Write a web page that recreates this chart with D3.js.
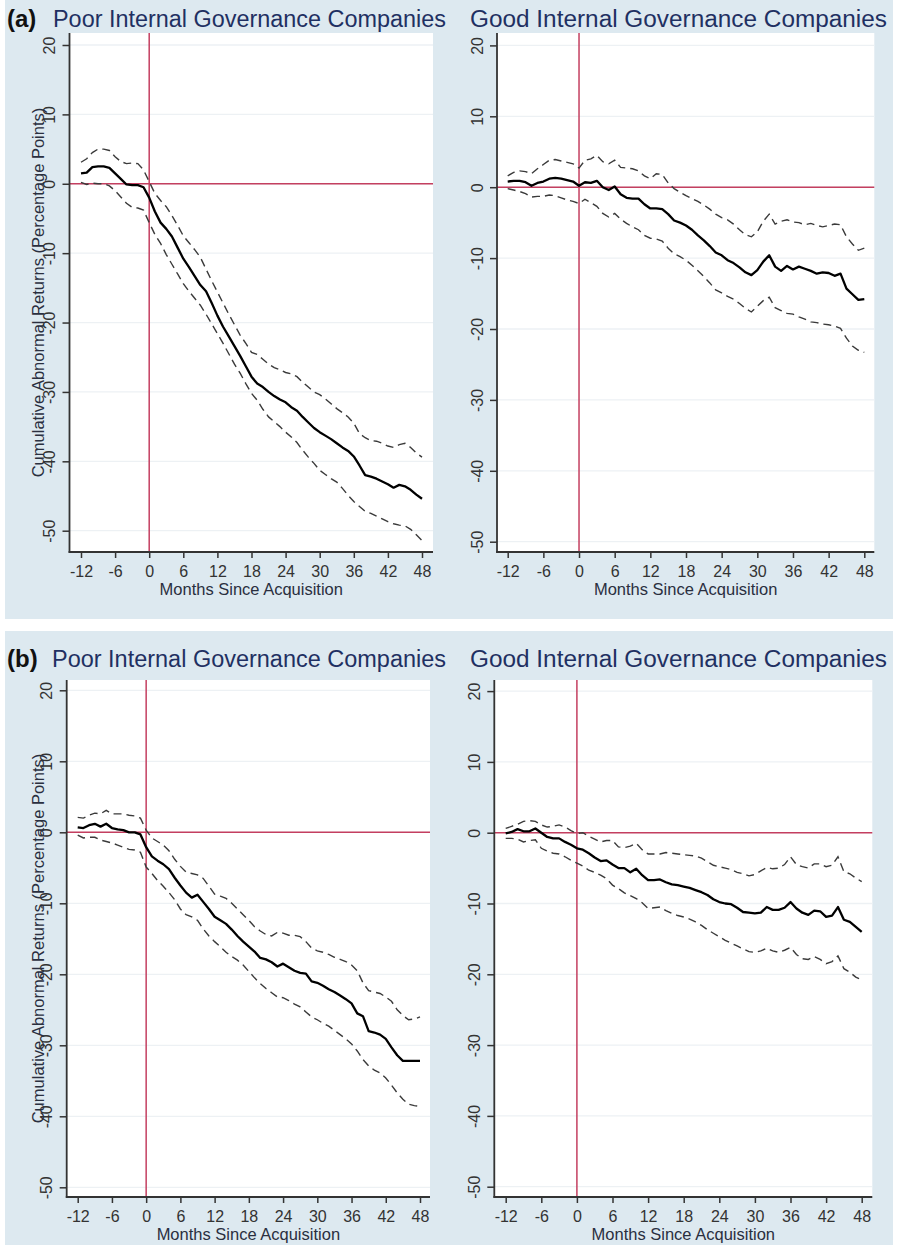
<!DOCTYPE html>
<html><head><meta charset="utf-8">
<script src="https://cdn.jsdelivr.net/npm/d3@7"></script>
<style>body{margin:0;background:#fff;} svg{display:block;} text{font-family:"Liberation Sans",Arial,sans-serif;}</style>
</head><body>
<svg id="c" width="897" height="1247"></svg>
<script>
// ---------- data ----------
const months = [-12,-11,-10,-9,-8,-7,-6,-5,-4,-3,-2,-1,0,1,2,3,4,5,6,7,8,9,10,11,12,13,14,15,16,17,18,19,20,21,22,23,24,25,26,27,28,29,30,31,32,33,34,35,36,37,38,39,40,41,42,43,44,45,46,47,48];
const xTicks = [-12,-6,0,6,12,18,24,30,36,42,48];
const yTicks = [20,10,0,-10,-20,-30,-40,-50];

// (a) Poor internal governance
const aPoorMean = [1.5,1.6,2.4,2.5,2.5,2.3,1.5,0.7,-0.1,-0.2,-0.2,-0.5,-2.0,-4.0,-5.6,-6.5,-7.6,-9.2,-10.8,-12.0,-13.3,-14.6,-15.5,-17.2,-19.0,-20.6,-22.0,-23.4,-24.8,-26.3,-27.8,-28.8,-29.3,-30.0,-30.6,-31.1,-31.5,-32.2,-32.7,-33.6,-34.4,-35.2,-35.8,-36.3,-36.8,-37.4,-38.0,-38.5,-39.3,-40.6,-42.0,-42.2,-42.5,-42.9,-43.3,-43.8,-43.4,-43.6,-44.1,-44.8,-45.4];
const aPoorUpper = [3.1,3.6,4.5,5.0,5.0,4.8,3.9,3.2,2.9,3.0,2.9,2.0,0.3,-1.4,-2.4,-3.3,-4.6,-6.0,-7.5,-8.5,-9.5,-10.6,-12.3,-14.0,-15.6,-17.2,-18.8,-20.3,-21.8,-23.0,-24.3,-24.6,-25.3,-26.0,-26.5,-26.8,-27.2,-27.4,-27.8,-28.6,-29.3,-30.0,-30.4,-31.0,-31.7,-32.4,-33.0,-33.6,-34.5,-36.0,-36.6,-37.0,-37.1,-37.4,-37.8,-38.0,-37.6,-37.4,-38.0,-38.8,-39.4];
const aPoorLower = [0.2,-0.1,0.1,0.0,0.0,-0.3,-1.0,-1.9,-2.8,-3.4,-3.5,-3.8,-5.6,-7.3,-8.6,-10.2,-11.6,-13.0,-14.4,-15.5,-16.5,-17.5,-18.8,-20.2,-21.6,-23.0,-24.5,-26.0,-27.3,-28.8,-30.2,-31.2,-32.5,-33.6,-34.3,-35.0,-35.8,-36.5,-37.3,-38.4,-39.4,-40.3,-41.3,-41.9,-42.5,-43.0,-43.9,-44.9,-45.8,-46.5,-47.2,-47.5,-47.9,-48.3,-48.7,-49.0,-49.2,-49.3,-49.8,-50.6,-51.4];

// (a) Good internal governance
const aGoodMean = [0.8,0.9,0.9,0.7,0.2,0.6,0.8,1.2,1.3,1.2,1.0,0.8,0.2,0.7,0.6,0.9,0.0,-0.4,0.1,-1.0,-1.5,-1.6,-1.6,-2.4,-3.0,-3.0,-3.1,-3.8,-4.7,-5.0,-5.4,-6.0,-6.8,-7.5,-8.3,-9.2,-9.6,-10.3,-10.7,-11.3,-12.0,-12.4,-11.7,-10.5,-9.6,-11.2,-11.8,-11.1,-11.6,-11.2,-11.5,-11.8,-12.2,-12.0,-12.1,-12.5,-12.2,-14.3,-15.1,-15.9,-15.8];
const aGoodUpper = [1.6,2.1,2.3,2.2,1.9,2.6,3.2,3.8,3.9,3.7,3.5,3.3,2.7,3.8,4.0,4.5,3.6,3.3,3.8,2.8,2.7,2.6,2.3,1.6,1.2,1.9,1.8,0.6,-0.2,-0.7,-1.2,-1.6,-2.0,-2.5,-3.1,-3.8,-4.3,-4.6,-5.2,-6.0,-6.7,-7.0,-6.3,-4.8,-3.8,-5.2,-4.8,-4.6,-4.9,-5.0,-5.3,-5.1,-5.4,-5.6,-5.4,-5.2,-5.3,-7.0,-8.0,-8.9,-8.6];
const aGoodLower = [-0.2,-0.4,-0.6,-0.9,-1.4,-1.3,-1.3,-1.1,-1.2,-1.5,-1.8,-2.0,-2.3,-1.7,-2.2,-2.7,-3.7,-4.2,-3.7,-4.5,-5.1,-5.6,-6.0,-6.8,-7.2,-7.3,-7.6,-8.6,-9.4,-9.8,-10.3,-11.0,-11.8,-12.6,-13.5,-14.5,-14.9,-15.4,-15.8,-16.4,-17.1,-17.6,-16.8,-16.0,-15.5,-17.0,-17.4,-17.8,-17.9,-18.3,-18.6,-19.0,-19.1,-19.3,-19.4,-19.6,-19.9,-21.3,-22.4,-23.0,-23.3];

// (b) Poor internal governance
const bPoorMean = [0.7,0.6,1.0,1.2,0.8,1.2,0.6,0.4,0.3,0.0,0.0,-0.3,-2.1,-3.4,-4.0,-4.5,-5.2,-6.4,-7.5,-8.5,-9.2,-8.8,-9.8,-10.8,-11.9,-12.4,-12.9,-13.7,-14.6,-15.4,-16.1,-16.8,-17.7,-17.9,-18.3,-18.9,-18.5,-19.0,-19.5,-19.8,-19.9,-21.0,-21.2,-21.6,-22.1,-22.5,-23.0,-23.5,-24.1,-25.5,-25.9,-28.0,-28.2,-28.5,-29.1,-30.3,-31.4,-32.2,-32.2,-32.2,-32.2];
const bPoorUpper = [2.1,2.0,2.4,2.7,2.6,3.1,2.6,2.6,2.6,2.4,2.3,2.0,0.3,-0.8,-1.3,-1.8,-2.6,-3.8,-4.8,-5.6,-5.8,-6.0,-6.5,-7.6,-8.7,-9.0,-9.3,-10.0,-10.8,-11.6,-12.4,-13.3,-13.9,-14.4,-14.6,-14.1,-14.2,-14.5,-14.5,-14.7,-15.4,-16.3,-16.7,-16.9,-17.2,-17.6,-17.9,-18.2,-18.7,-19.5,-21.2,-22.3,-22.5,-22.7,-23.2,-23.8,-25.0,-25.8,-26.4,-26.3,-26.0];
const bPoorLower = [-0.4,-0.8,-0.7,-0.7,-1.1,-1.3,-1.5,-1.8,-2.1,-2.4,-2.5,-2.8,-4.9,-5.8,-6.8,-7.6,-8.5,-9.5,-10.8,-11.6,-11.9,-12.4,-13.6,-14.6,-15.4,-16.1,-16.9,-17.5,-18.0,-18.7,-19.6,-20.5,-21.3,-22.0,-22.6,-23.2,-23.3,-23.7,-24.2,-24.6,-25.3,-26.0,-26.4,-26.9,-27.3,-27.9,-28.5,-29.1,-29.8,-30.8,-32.0,-32.9,-33.5,-33.9,-34.6,-35.6,-36.7,-37.6,-38.3,-38.5,-38.6];

// (b) Good internal governance
const bGoodMean = [-0.1,0.1,0.5,0.2,0.2,0.6,0.0,-0.6,-0.8,-0.8,-1.3,-1.7,-2.2,-2.4,-2.9,-3.5,-4.0,-3.9,-4.5,-5.0,-5.0,-5.6,-5.1,-6.0,-6.7,-6.7,-6.6,-7.0,-7.3,-7.4,-7.6,-7.8,-8.1,-8.4,-8.8,-9.4,-9.8,-10.0,-10.1,-10.6,-11.2,-11.3,-11.4,-11.3,-10.5,-10.9,-10.9,-10.6,-9.8,-10.7,-11.3,-11.6,-11.0,-11.1,-11.9,-11.7,-10.5,-12.3,-12.6,-13.3,-14.0];
const bGoodUpper = [0.6,0.9,1.2,1.6,1.7,1.6,1.1,0.8,0.9,1.1,0.8,0.3,-0.1,0.0,-0.5,-0.9,-1.3,-1.1,-1.1,-2.0,-2.1,-1.9,-1.5,-2.4,-3.0,-3.0,-3.0,-2.8,-2.9,-3.0,-3.1,-3.2,-3.3,-3.6,-4.1,-4.6,-4.8,-5.0,-5.2,-5.6,-5.8,-6.1,-5.9,-5.4,-4.9,-5.1,-5.0,-4.5,-3.4,-4.5,-4.8,-5.0,-4.4,-4.4,-4.8,-4.6,-3.4,-5.5,-5.8,-6.4,-6.9];
const bGoodLower = [-0.8,-0.8,-0.9,-1.3,-1.1,-1.0,-2.2,-2.6,-2.9,-3.0,-3.4,-3.9,-4.3,-4.7,-5.3,-5.6,-6.0,-6.5,-7.4,-7.9,-8.5,-8.9,-9.3,-9.9,-10.7,-10.6,-10.5,-11.0,-11.4,-11.7,-11.9,-12.2,-12.6,-13.1,-13.7,-14.2,-14.7,-15.2,-15.6,-16.0,-16.4,-16.8,-16.9,-16.7,-16.3,-16.7,-16.9,-16.6,-16.2,-17.2,-17.8,-17.9,-17.5,-17.9,-18.5,-18.2,-17.4,-19.2,-19.7,-20.4,-20.8];

const titles = ["Poor Internal Governance Companies","Good Internal Governance Companies"];
const tags = ["(a)","(b)"];
const xTitle = "Months Since Acquisition";
const yTitle = "Cumulative Abnormal Returns (Percentage Points)";

// ---------- layout ----------
const BG = "#dde9f0", RED = "#c43f60", NAVY = "#1f3062", AX = "#333333";
const panels = [
  {row:0, col:0, mean:aPoorMean, up:aPoorUpper, lo:aPoorLower, x0:81, x1:422, left:69.5, right:433, y20:45, y50:530.7, top:33, bottom:552, tx:53, tw:393, ty:27},
  {row:0, col:1, mean:aGoodMean, up:aGoodUpper, lo:aGoodLower, x0:507.7, x1:864.3, left:497, right:874.3, y20:45.4, y50:541.7, top:33, bottom:552, tx:470, tw:417, ty:27},
  {row:1, col:0, mean:bPoorMean, up:bPoorUpper, lo:bPoorLower, x0:77.7, x1:420, left:66.7, right:430, y20:690.3, y50:1187.3, top:680, bottom:1197, tx:52, tw:394, ty:667},
  {row:1, col:1, mean:bGoodMean, up:bGoodUpper, lo:bGoodLower, x0:505.7, x1:861.7, left:494.3, right:872.3, y20:691.1, y50:1186.7, top:680, bottom:1197, tx:470, tw:417, ty:667}
];

const svg = d3.select('#c');
svg.append('rect').attr('x',5).attr('y',0).attr('width',888).attr('height',619).attr('fill',BG);
svg.append('rect').attr('x',5).attr('y',631).attr('width',888).attr('height',614).attr('fill',BG);

// row tags
[27,667].forEach((ty,i)=>{
  svg.append('text').attr('x',7).attr('y',ty).attr('font-size',24).attr('font-weight','bold').attr('fill','#111').text(tags[i]);
});

panels.forEach(p=>{
  const x = d3.scaleLinear().domain([-12,48]).range([p.x0,p.x1]);
  const y = d3.scaleLinear().domain([20,-50]).range([p.y20,p.y50]);
  const g = svg.append('g');

  // title
  g.append('text').attr('x',p.tx).attr('y',p.ty).attr('font-size',23).attr('fill',NAVY)
    .attr('textLength',p.tw).attr('lengthAdjust','spacingAndGlyphs').text(titles[p.col]);

  // plot region
  g.append('rect').attr('x',p.left).attr('y',p.top).attr('width',p.right-p.left).attr('height',p.bottom-p.top).attr('fill','#fff');

  // grid
  g.selectAll('line.grid').data(yTicks).join('line').attr('class','grid')
    .attr('x1',p.left).attr('x2',p.right).attr('y1',d=>y(d)).attr('y2',d=>y(d))
    .attr('stroke','#edf1f4').attr('stroke-width',1.3);

  // reference lines
  g.append('line').attr('x1',x(0)).attr('x2',x(0)).attr('y1',p.top).attr('y2',p.bottom).attr('stroke',RED).attr('stroke-width',1.5);
  g.append('line').attr('x1',p.left).attr('x2',p.right).attr('y1',y(0)).attr('y2',y(0)).attr('stroke',RED).attr('stroke-width',1.5);

  const line = d3.line().x((d,i)=>x(months[i])).y(d=>y(d));
  [p.up,p.lo].forEach(s=>{
    g.append('path').datum(s).attr('d',line).attr('fill','none').attr('stroke','#3a3a3a')
      .attr('stroke-width',1.4).attr('stroke-dasharray','8,5');
  });
  g.append('path').datum(p.mean).attr('d',line).attr('fill','none').attr('stroke','#000').attr('stroke-width',2.3).attr('stroke-linejoin','round');

  // y axis
  const ya = g.append('g').attr('transform',`translate(${p.left},0)`)
    .call(d3.axisLeft(y).tickValues(yTicks).tickSize(7).tickFormat(d=>String(d)));
  ya.select('.domain').remove();
  ya.attr('font-size',16).attr('font-family','"Liberation Sans",Arial,sans-serif');
  ya.selectAll('.tick line').attr('stroke',AX).attr('stroke-width',1.5);
  ya.selectAll('.tick text').attr('transform','rotate(-90)').attr('x',0).attr('y',-20).attr('dy','0.35em')
    .attr('text-anchor','middle').attr('fill',AX);
  g.append('line').attr('x1',p.left).attr('x2',p.left).attr('y1',p.top).attr('y2',p.bottom+0.75).attr('stroke',AX).attr('stroke-width',1.8);

  // x axis
  const xa = g.append('g').attr('transform',`translate(0,${p.bottom})`)
    .call(d3.axisBottom(x).tickValues(xTicks).tickSize(6).tickFormat(d=>String(d)));
  xa.select('.domain').remove();
  xa.attr('font-size',16).attr('font-family','"Liberation Sans",Arial,sans-serif');
  xa.selectAll('.tick line').attr('stroke',AX).attr('stroke-width',1.5);
  xa.selectAll('.tick text').attr('y',24.5).attr('dy',0).attr('fill',AX);
  g.append('line').attr('x1',p.left-0.9).attr('x2',p.right).attr('y1',p.bottom).attr('y2',p.bottom).attr('stroke',AX).attr('stroke-width',1.8);

  // x title
  g.append('text').attr('x',(p.left+p.right)/2).attr('y',p.bottom+43).attr('text-anchor','middle')
    .attr('font-size',16.5).attr('fill','#2a2f3f').text(xTitle);

  // y title (left column only)
  if(p.col===0){
    g.append('text').attr('transform',`translate(44,${(p.top+p.bottom)/2}) rotate(-90)`).attr('text-anchor','middle')
      .attr('font-size',16.5).attr('fill','#2a2f3f').text(yTitle);
  }
});
</script>
</body></html>
